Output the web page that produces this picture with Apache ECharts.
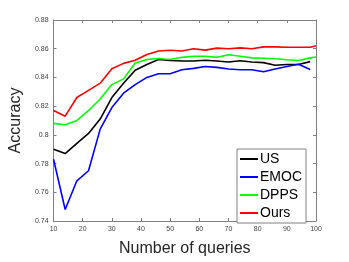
<!DOCTYPE html>
<html><head><meta charset="utf-8">
<script src="https://cdn.jsdelivr.net/npm/echarts@6/dist/echarts.min.js"></script>
<style>html,body{margin:0;padding:0;background:#fff}#c{width:349px;height:262px}</style>
</head><body><div id="c"></div>
<script>
const queries = [10,14,18,22,26,30,34,38,42,46,50,54,58,62,66,70,74,78,82,86,90,94,98];
const queriesLong = [10,14,18,22,26,30,34,38,42,46,50,54,58,62,66,70,74,78,82,86,90,94,98,100];
const seriesNames = ['US','EMOC','DPPS','Ours'];
const usVals   = [0.790,0.787,0.794,0.801,0.811,0.826,0.836,0.845,0.849,0.8525,0.8518,0.8514,0.8514,0.852,0.8514,0.8507,0.8516,0.8507,0.8503,0.8485,0.849,0.849,0.851];
const emocVals = [0.783,0.748,0.768,0.775,0.804,0.819,0.829,0.835,0.840,0.8426,0.8426,0.8453,0.8463,0.8476,0.847,0.8459,0.8453,0.8453,0.8439,0.8459,0.8476,0.8492,0.8455];
const dppsVals = [0.808,0.807,0.810,0.817,0.825,0.835,0.839,0.850,0.8525,0.8532,0.8525,0.854,0.8547,0.8547,0.854,0.8558,0.8547,0.8536,0.8534,0.853,0.8523,0.8518,0.8536,0.8542];
const oursVals = [0.817,0.813,0.826,0.831,0.836,0.846,0.8498,0.852,0.856,0.8584,0.8589,0.8584,0.860,0.859,0.8604,0.860,0.8606,0.860,0.8613,0.8613,0.861,0.861,0.861,0.862];
const xTicks = {min:10, max:100, step:10};
const yTicks = {min:0.74, max:0.88, step:0.02};
const colors = ['#000000','#0000ff','#00ff00','#ff0000'];

function pairs(xs, ys){ return ys.map((v,i)=>[xs[i], v]); }
const dataSets = [pairs(queries,usVals), pairs(queries,emocVals), pairs(queriesLong,dppsVals), pairs(queriesLong,oursVals)];

const chart = echarts.init(document.getElementById('c'), null, {renderer:'canvas'});
const axisLine = {show:true, lineStyle:{color:'#808080', width:1}};
const tick = {show:true, inside:true, length:3, lineStyle:{color:'#808080'}};
const lbl = {fontSize:7, color:'#404040', fontFamily:'Liberation Sans'};
chart.setOption({
  animation:false,
  grid:{left:45, right:33, top:20, bottom:30},
  xAxis:[
    {type:'value', min:xTicks.min, max:xTicks.max, interval:xTicks.step, axisLine, axisTick:tick, axisLabel:{...lbl, margin:5}, splitLine:{show:false},
     name:'Number of queries', nameLocation:'middle', nameGap:20, nameTextStyle:{fontSize:16, color:'#262626', fontFamily:'Liberation Sans'}},
    {type:'value', position:'top', min:xTicks.min, max:xTicks.max, interval:xTicks.step, axisLine, axisTick:tick, axisLabel:{show:false}, splitLine:{show:false}}
  ],
  yAxis:[
    {type:'value', min:yTicks.min, max:yTicks.max, interval:yTicks.step, axisLine, axisTick:tick, axisLabel:{...lbl, margin:5}, splitLine:{show:false},
     name:'Accuracy', nameLocation:'middle', nameGap:21, nameTextStyle:{fontSize:16, color:'#262626', fontFamily:'Liberation Sans'}},
    {type:'value', position:'right', min:yTicks.min, max:yTicks.max, interval:yTicks.step, axisLine, axisTick:tick, axisLabel:{show:false}, splitLine:{show:false}}
  ],
  legend:{
    orient:'vertical', left:237, top:149, data:seriesNames, icon:'rect',
    backgroundColor:'#fff', borderColor:'#808080', borderWidth:1, padding:[3,4,3,3],
    itemWidth:18, itemHeight:2, itemGap:4,
    textStyle:{fontSize:14, lineHeight:14, color:'#000', fontFamily:'Liberation Sans', padding:[0,0,0,-3]}
  },
  series: seriesNames.map((n,i)=>({
    name:n, type:'line', data:dataSets[i], symbol:'none', showSymbol:false,
    lineStyle:{color:colors[i], width:1.6}, itemStyle:{color:colors[i]}, z: 2 + i
  }))
});
</script></body></html>
